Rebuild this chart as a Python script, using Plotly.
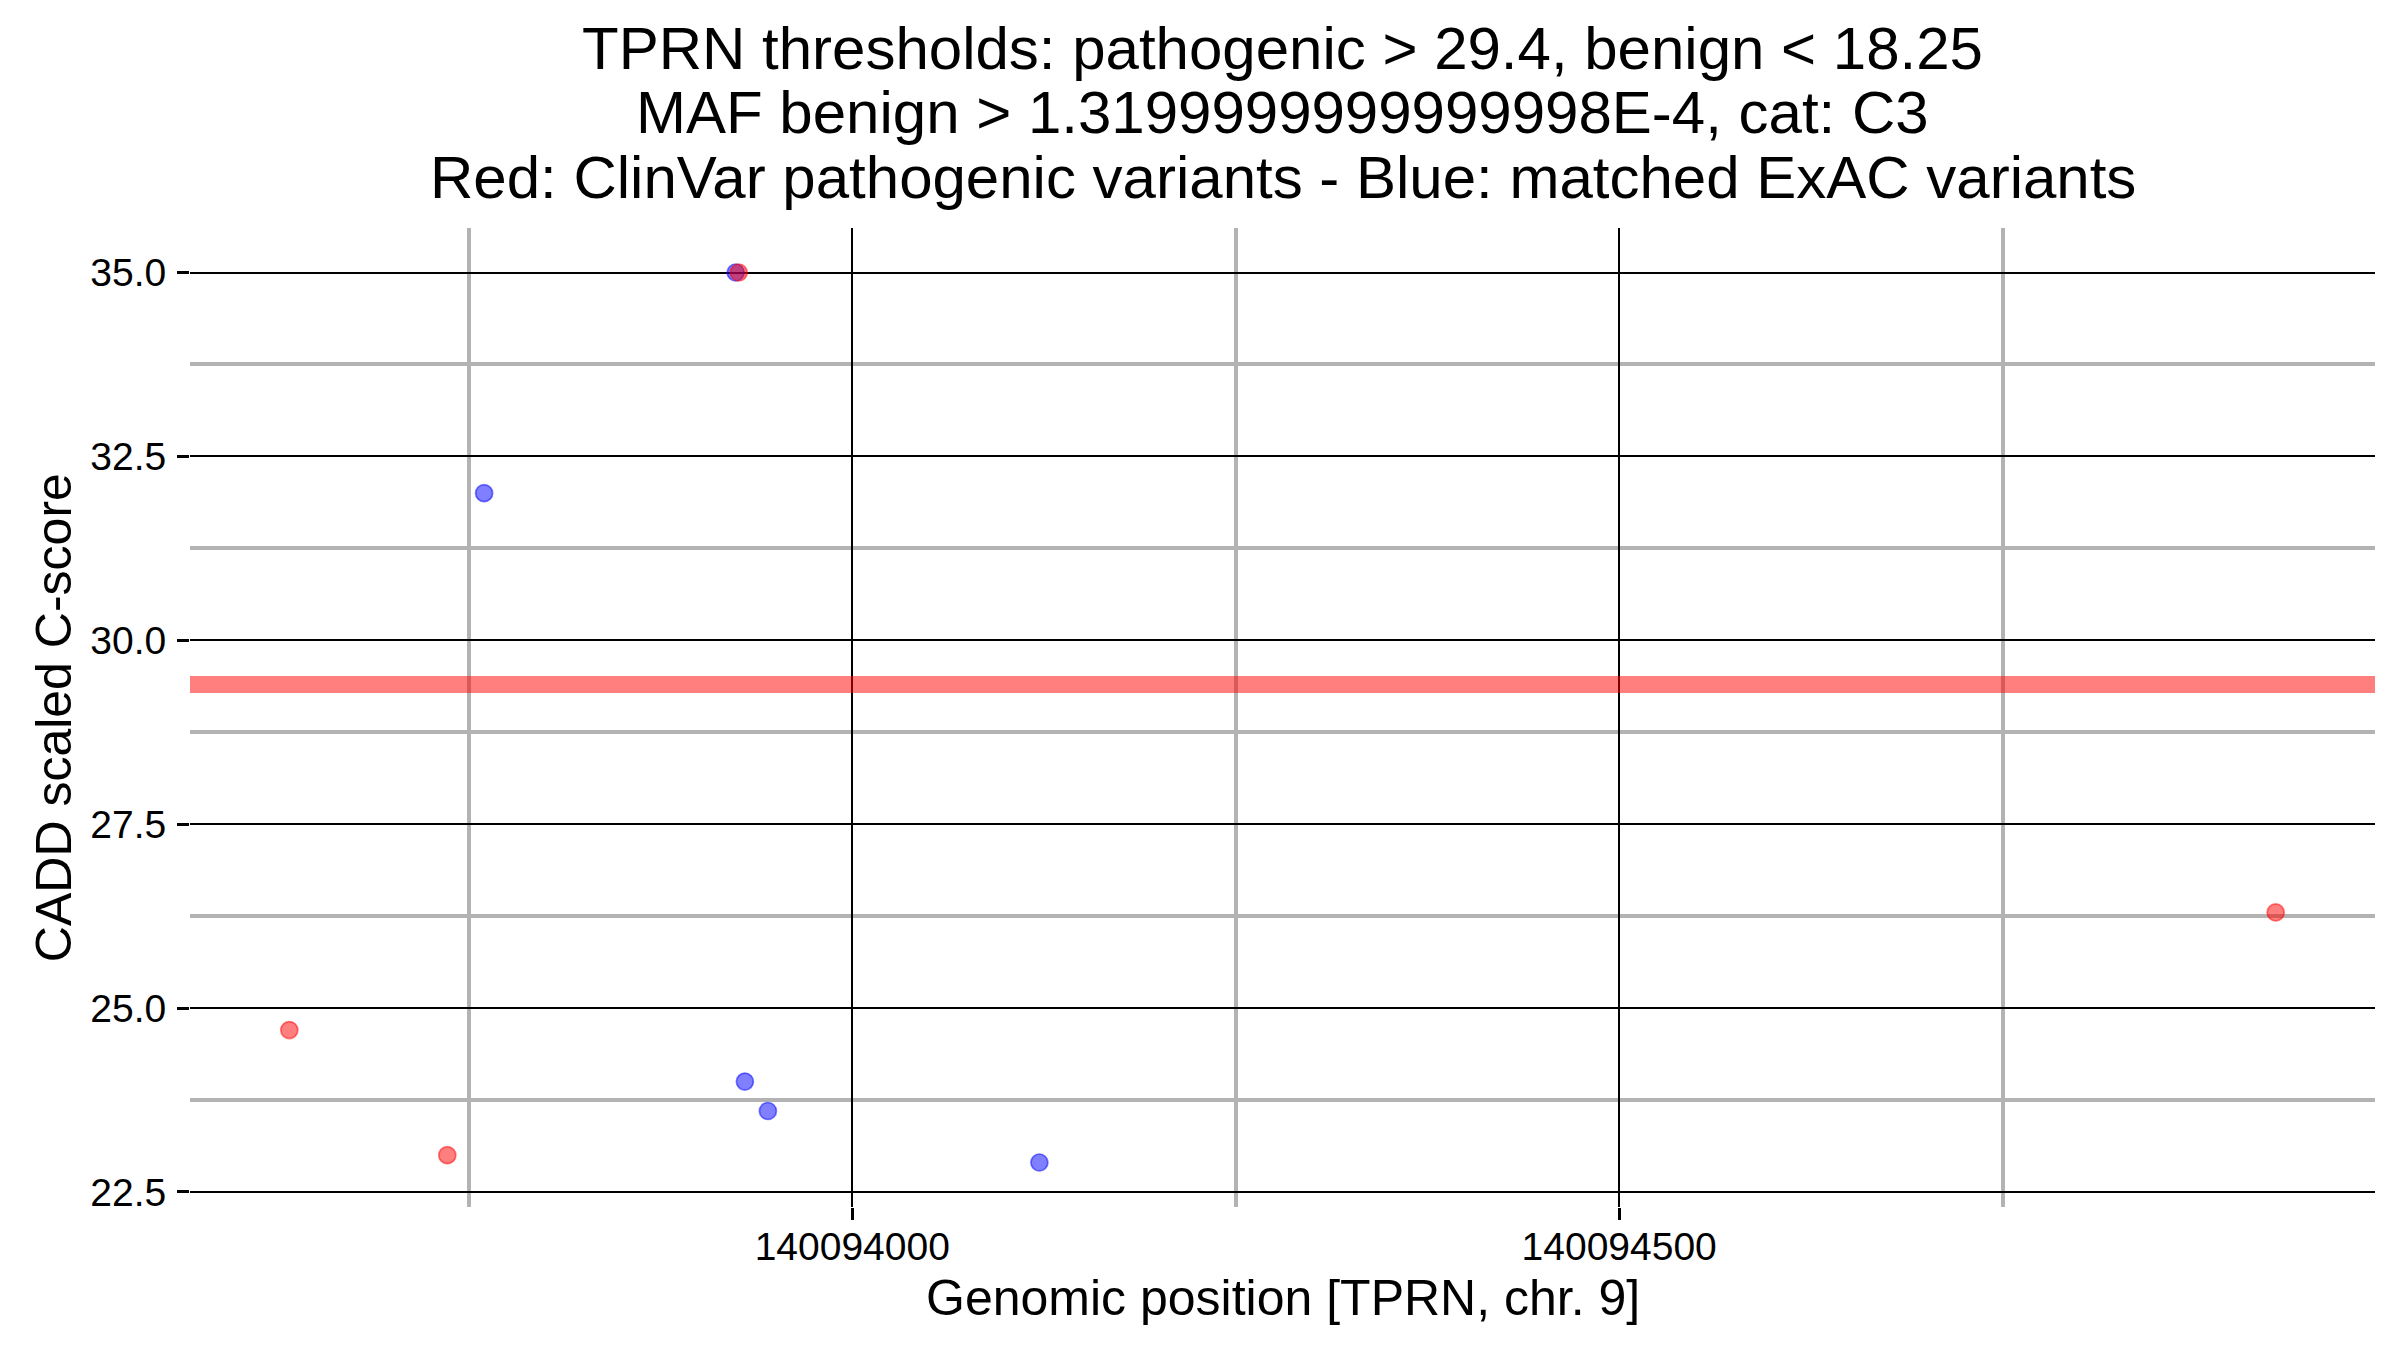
import plotly.graph_objects as go

# ---- data ----
clinvar_pos = [140093633, 140093736, 140093926, 140094928]
clinvar_cadd = [24.7, 23.0, 35.0, 26.3]

exac_pos = [140093760, 140093924, 140093930, 140093945, 140094122]
exac_cadd = [32.0, 35.0, 24.0, 23.6, 22.9]

patho_threshold = 29.4
benign_threshold = 18.25

title_lines = [
    "TPRN thresholds: pathogenic > 29.4, benign < 18.25",
    "MAF benign > 1.3199999999999998E-4, cat: C3",
    "Red: ClinVar pathogenic variants - Blue: matched ExAC variants",
]
x_title = "Genomic position [TPRN, chr. 9]"
y_title = "CADD scaled C-score"

FONT = "Liberation Sans, Arial, Helvetica, sans-serif"

# ggplot-like 5% expansion of the data range
all_x = clinvar_pos + exac_pos
all_y = clinvar_cadd + exac_cadd
xr = max(all_x) - min(all_x)
yr = max(all_y) - min(all_y)
x_range = [min(all_x) - 0.05 * xr, max(all_x) + 0.05 * xr]
y_range = [min(all_y) - 0.05 * yr, max(all_y) + 0.05 * yr]

fig = go.Figure()

fig.add_trace(go.Scatter(
    x=exac_pos, y=exac_cadd, mode="markers",
    marker=dict(size=17, color="rgba(0,0,255,0.5)",
                line=dict(color="rgba(0,0,255,0.5)", width=1.7)),
    showlegend=False, hoverinfo="x+y",
))
fig.add_trace(go.Scatter(
    x=clinvar_pos, y=clinvar_cadd, mode="markers",
    marker=dict(size=17, color="rgba(255,0,0,0.5)",
                line=dict(color="rgba(255,0,0,0.5)", width=1.7)),
    showlegend=False, hoverinfo="x+y",
))

fig.add_shape(type="line", xref="paper", x0=0, x1=1, yref="y",
              y0=patho_threshold, y1=patho_threshold,
              line=dict(color="rgba(255,0,0,0.5)", width=17), layer="above")

L, R, T, B = 190, 25, 228, 143
W, H = 2400, 1350
ph = H - T - B
pw = W - L - R

def py(px):
    return (H - B - px) / ph

def pxx(px):
    return (px - L) / pw

AX_FS = 50
annotations = []
for txt, base in zip(title_lines, [69.2, 133.5, 198.5]):
    annotations.append(dict(
        text=txt, xref="paper", yref="paper", x=0.5, y=py(base - 0.3465 * 60),
        xanchor="center", yanchor="middle", showarrow=False,
        font=dict(family=FONT, size=60, color="black")))
annotations.append(dict(
    text=x_title, xref="paper", yref="paper", x=0.5, y=py(1315.7 - 0.3465 * AX_FS),
    xanchor="center", yanchor="middle", showarrow=False,
    font=dict(family=FONT, size=AX_FS, color="black")))
annotations.append(dict(
    text=y_title, xref="paper", yref="paper", x=pxx(71 - 0.3465 * AX_FS), y=0.5,
    xanchor="center", yanchor="middle", showarrow=False, textangle=-90,
    font=dict(family=FONT, size=AX_FS, color="black")))

fig.update_layout(
    width=W, height=H, autosize=False,
    margin=dict(l=L, r=R, t=T, b=B, pad=0),
    paper_bgcolor="white", plot_bgcolor="white",
    font=dict(family=FONT, color="black"),
    annotations=annotations,
    showlegend=False,
)

fig.update_xaxes(
    range=x_range, tick0=140094000, dtick=500, tickformat="d",
    showgrid=True, gridcolor="black", gridwidth=1.6,
    zeroline=False, showline=False,
    ticks="outside", ticklen=12, tickwidth=3, tickcolor="black",
    tickfont=dict(family=FONT, size=39, color="black"),
    ticklabelstandoff=-7,
    minor=dict(tick0=140093750, dtick=500, showgrid=True,
               gridcolor="#B3B3B3", gridwidth=4.3, ticks=""),
)
fig.update_yaxes(
    range=y_range, tick0=22.5, dtick=2.5, tickformat=".1f",
    showgrid=True, gridcolor="black", gridwidth=1.6,
    zeroline=False, showline=False,
    ticks="outside", ticklen=12, tickwidth=3, tickcolor="black",
    tickfont=dict(family=FONT, size=39, color="black"),
    ticklabelstandoff=3,
    minor=dict(tick0=23.75, dtick=2.5, showgrid=True,
               gridcolor="#B3B3B3", gridwidth=4.3, ticks=""),
)

fig.write_html("out.html", config={"displayModeBar": False},
               post_script="document.body.style.margin='0px';")
